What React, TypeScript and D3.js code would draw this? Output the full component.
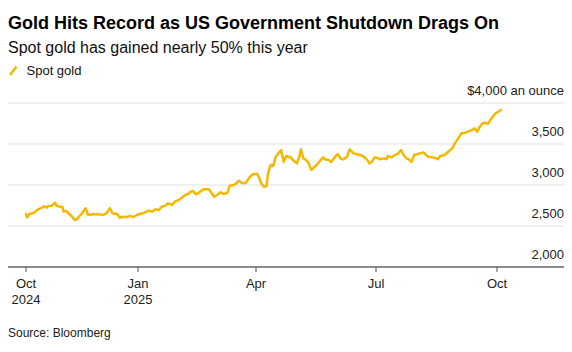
import React from 'react';
import * as d3 from 'd3';

// Spot gold, USD per ounce
const dates = [
  '2024-10-01', '2024-10-02', '2024-10-04', '2024-10-07', '2024-10-11', '2024-10-14', '2024-10-16', '2024-10-18',
  '2024-10-19', '2024-10-22', '2024-10-25', '2024-10-26', '2024-10-29', '2024-10-31', '2024-11-01', '2024-11-03',
  '2024-11-08', '2024-11-10', '2024-11-12', '2024-11-16', '2024-11-19', '2024-11-21', '2024-11-25', '2024-11-30',
  '2024-12-03', '2024-12-06', '2024-12-09', '2024-12-11', '2024-12-15', '2024-12-17', '2024-12-19', '2024-12-23',
  '2024-12-26', '2024-12-28', '2024-12-31', '2025-01-03', '2025-01-05', '2025-01-09', '2025-01-12', '2025-01-14',
  '2025-01-17', '2025-01-19', '2025-01-22', '2025-01-24', '2025-01-27', '2025-01-29', '2025-02-01', '2025-02-04',
  '2025-02-06', '2025-02-09', '2025-02-10', '2025-02-12', '2025-02-14', '2025-02-16', '2025-02-19', '2025-02-21',
  '2025-02-24', '2025-02-26', '2025-02-28', '2025-03-03', '2025-03-05', '2025-03-07', '2025-03-10', '2025-03-12',
  '2025-03-15', '2025-03-17', '2025-03-19', '2025-03-21', '2025-03-24', '2025-03-26', '2025-03-28', '2025-03-30',
  '2025-04-02', '2025-04-03', '2025-04-05', '2025-04-07', '2025-04-09', '2025-04-10', '2025-04-12', '2025-04-14',
  '2025-04-16', '2025-04-18', '2025-04-20', '2025-04-22', '2025-04-24', '2025-04-26', '2025-04-27', '2025-04-29',
  '2025-05-02', '2025-05-04', '2025-05-05', '2025-05-07', '2025-05-09', '2025-05-11', '2025-05-13', '2025-05-15',
  '2025-05-17', '2025-05-20', '2025-05-22', '2025-05-23', '2025-05-26', '2025-05-28', '2025-05-31', '2025-06-02',
  '2025-06-04', '2025-06-06', '2025-06-09', '2025-06-11', '2025-06-14', '2025-06-16', '2025-06-19', '2025-06-21',
  '2025-06-24', '2025-06-26', '2025-06-28', '2025-06-30', '2025-07-03', '2025-07-04', '2025-07-07', '2025-07-09',
  '2025-07-10', '2025-07-13', '2025-07-15', '2025-07-18', '2025-07-20', '2025-07-22', '2025-07-24', '2025-07-26',
  '2025-07-28', '2025-07-30', '2025-08-02', '2025-08-03', '2025-08-06', '2025-08-08', '2025-08-10', '2025-08-13',
  '2025-08-16', '2025-08-17', '2025-08-19', '2025-08-22', '2025-08-25', '2025-08-28', '2025-08-30', '2025-09-02',
  '2025-09-04', '2025-09-07', '2025-09-09', '2025-09-12', '2025-09-14', '2025-09-16', '2025-09-18', '2025-09-20',
  '2025-09-22', '2025-09-24', '2025-09-26', '2025-09-28', '2025-09-30', '2025-10-02', '2025-10-04',
];

const prices = [
  2646, 2606, 2650, 2655, 2703, 2723, 2740, 2723,
  2744, 2748, 2784, 2748, 2735, 2728, 2675, 2683,
  2613, 2573, 2585, 2655, 2716, 2634, 2643, 2643,
  2634, 2655, 2716, 2655, 2643, 2601, 2613, 2610,
  2626, 2606, 2634, 2650, 2655, 2687, 2675, 2703,
  2695, 2735, 2748, 2777, 2756, 2797, 2817, 2850,
  2878, 2899, 2918, 2927, 2887, 2899, 2939, 2948,
  2948, 2906, 2857, 2887, 2911, 2890, 2899, 2992,
  3000, 3020, 3052, 3028, 3020, 3069, 3110, 3134,
  3134, 3101, 3020, 2979, 2988, 3130, 3244, 3232,
  3345, 3386, 3427, 3284, 3354, 3337, 3345, 3305,
  3264, 3354, 3435, 3325, 3305, 3264, 3183, 3216,
  3244, 3305, 3337, 3313, 3305, 3281, 3345, 3378,
  3325, 3313, 3345, 3435, 3386, 3378, 3366, 3354,
  3313, 3264, 3284, 3337, 3325, 3313, 3325, 3313,
  3354, 3337, 3362, 3386, 3427, 3366, 3325, 3313,
  3281, 3366, 3378, 3386, 3398, 3366, 3345, 3337,
  3325, 3313, 3354, 3366, 3406, 3447, 3508, 3581,
  3630, 3638, 3650, 3671, 3691, 3650, 3711, 3752,
  3760, 3744, 3793, 3841, 3874, 3894, 3915,
];

const xTickDates = ['2024-10-01', '2025-01-01', '2025-04-01', '2025-07-01', '2025-10-01'];
const xTickMonths = ['Oct', 'Jan', 'Apr', 'Jul', 'Oct'];
const xTickYears = ['2024', '2025', '', '', ''];
const yTicks = [2000, 2500, 3000, 3500, 4000];

const title = 'Gold Hits Record as US Government Shutdown Drags On';
const subtitle = 'Spot gold has gained nearly 50% this year';
const seriesName = 'Spot gold';
const unitLabel = '$4,000 an ounce';
const source = 'Source: Bloomberg';

const GOLD = '#F5B800';
const FONT = '"Liberation Sans", Arial, Helvetica, sans-serif';

const parse = d3.utcParse('%Y-%m-%d');

export default function App() {
  const width = 572;
  const height = 352;
  const left = 8;
  const right = 564;

  const data = dates.map((d, i) => ({ date: parse(d)!, value: prices[i] }));

  // axis ticks are not evenly spaced in the source, so map quarter by quarter
  const x = d3.scaleUtc()
    .domain(xTickDates.map(d => parse(d)!))
    .range([26, 138, 256, 376, 497]);

  const y = d3.scaleLinear().domain([2000, 4000]).range([267, 103]);

  const line = d3.line<{ date: Date; value: number }>()
    .x(d => x(d.date))
    .y(d => y(d.value))
    .curve(d3.curveLinear);

  const fmt = d3.format(',');

  return (
    <svg
      width={width}
      height={height}
      style={{ position: 'absolute', left: 0, top: 0, background: '#fff' }}
      fontFamily={FONT}
    >
      <text x={8} y={29} fontSize={18} fontWeight={700} fill="#000">{title}</text>
      <text x={8} y={53} fontSize={16} fill="#111">{subtitle}</text>

      {/* legend */}
      <line x1={10} y1={75} x2={16.5} y2={66.5} stroke={GOLD} strokeWidth={2.5} />
      <text x={26.5} y={75} fontSize={13} fill="#111">{seriesName}</text>

      {/* gridlines + y labels */}
      {yTicks.map(t => (
        <g key={t}>
          {t > 2000 && (
            <line x1={left} x2={right} y1={y(t)} y2={y(t)} stroke="#e2e2e2" strokeWidth={1} />
          )}
          <text x={right} y={y(t) - 8} textAnchor="end" fontSize={13} fill="#222">
            {t === 4000 ? unitLabel : fmt(t)}
          </text>
        </g>
      ))}

      {/* x axis */}
      <line x1={left} x2={right} y1={y(2000)} y2={y(2000)} stroke="#8c8c8c" strokeWidth={2} />
      {xTickDates.map((d, i) => {
        const tx = x(parse(d)!);
        return (
          <g key={d + i} transform={`translate(${tx},0)`}>
            <line y1={y(2000)} y2={y(2000) + 5} stroke="#555" strokeWidth={1} />
            <text y={288} textAnchor="middle" fontSize={13} fill="#222">{xTickMonths[i]}</text>
            {xTickYears[i] && (
              <text y={304} textAnchor="middle" fontSize={13} fill="#222">{xTickYears[i]}</text>
            )}
          </g>
        );
      })}

      <path d={line(data) || ''} fill="none" stroke={GOLD} strokeWidth={2.5} strokeLinejoin="round" strokeLinecap="round" />

      <text x={8} y={337} fontSize={12} fill="#222">{source}</text>
    </svg>
  );
}
